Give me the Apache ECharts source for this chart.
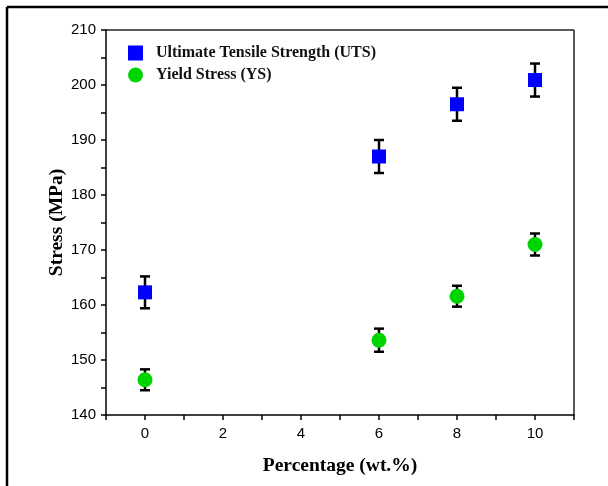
<!DOCTYPE html>
<html>
<head>
<meta charset="utf-8">
<script src="https://cdn.jsdelivr.net/npm/echarts@6/dist/echarts.min.js"></script>
<style>
  html, body { margin: 0; padding: 0; background: #fff; }
  #chart { width: 608px; height: 486px; }
</style>
</head>
<body>
<div id="chart"></div>
<script>
// data
var percent = [0, 6, 8, 10];
var utsValues = [162.3, 187.0, 196.5, 200.9];
var utsErrors = [2.9, 3.0, 3.0, 3.0];
var ysValues = [146.4, 153.6, 161.6, 171.0];
var ysErrors = [1.9, 2.1, 1.9, 2.0];
var xTicks = [0, 2, 4, 6, 8, 10];
var yTicks = [140, 150, 160, 170, 180, 190, 200, 210];

var dom = document.getElementById('chart');
var myChart = echarts.init(dom, null, { renderer: 'canvas' });

function points(vals) {
    return percent.map(function (x, i) { return [x, vals[i]]; });
}
function bars(vals, errs) {
    return percent.map(function (x, i) { return [x, vals[i] - errs[i], vals[i] + errs[i]]; });
}

function renderErrorBar(params, api) {
    var lo = api.coord([api.value(0), api.value(1)]);
    var hi = api.coord([api.value(0), api.value(2)]);
    var half = 5;
    var style = { stroke: '#000', lineWidth: 2.5 };
    return {
        type: 'group',
        children: [
            { type: 'line', shape: { x1: lo[0], y1: lo[1], x2: hi[0], y2: hi[1] }, style: style },
            { type: 'line', shape: { x1: lo[0] - half, y1: lo[1], x2: lo[0] + half, y2: lo[1] }, style: style },
            { type: 'line', shape: { x1: hi[0] - half, y1: hi[1], x2: hi[0] + half, y2: hi[1] }, style: style }
        ]
    };
}

var axisText = { color: '#000', fontFamily: 'Liberation Sans', fontSize: 15 };
var nameText = { color: '#000', fontFamily: 'Liberation Serif', fontWeight: 'bold', fontSize: 19.5 };

var option = {
    animation: false,
    backgroundColor: '#fff',
    grid: { left: 106, top: 30, right: 34, bottom: 71 },
    legend: {
        orient: 'vertical',
        left: 123,
        top: 40,
        itemWidth: 15,
        itemHeight: 15,
        itemGap: 6,
        textStyle: { color: '#111', fontFamily: 'Liberation Serif', fontWeight: 'bold', fontSize: 16, padding: [0, 0, 0, 8] },
        data: [
            { name: 'Ultimate Tensile Strength (UTS)', icon: 'rect' },
            { name: 'Yield Stress (YS)', icon: 'circle' }
        ]
    },
    xAxis: {
        type: 'value',
        min: -1,
        max: 11,
        interval: 1,
        name: 'Percentage (wt.%)',
        nameLocation: 'middle',
        nameGap: 41,
        nameMoveOverlap: false,
        nameTextStyle: nameText,
        axisLine: { show: true, onZero: false, lineStyle: { color: '#000', width: 1.5 } },
        axisTick: { show: true, length: 5, lineStyle: { color: '#000', width: 1.5 } },
        axisLabel: Object.assign({
            margin: 11,
            formatter: function (v) { return xTicks.indexOf(v) >= 0 ? String(v) : ''; }
        }, axisText),
        splitLine: { show: false }
    },
    yAxis: {
        type: 'value',
        min: 140,
        max: 210,
        interval: 5,
        name: 'Stress (MPa)',
        nameLocation: 'middle',
        nameGap: 39,
        nameMoveOverlap: false,
        nameTextStyle: nameText,
        axisLine: { show: true, onZero: false, lineStyle: { color: '#000', width: 1.5 } },
        axisTick: { show: true, length: 5, lineStyle: { color: '#000', width: 1.5 } },
        axisLabel: Object.assign({
            margin: 10,
            formatter: function (v) { return yTicks.indexOf(v) >= 0 ? String(v) : ''; }
        }, axisText),
        splitLine: { show: false }
    },
    graphic: [
        { type: 'line', shape: { x1: 7, y1: 7, x2: 608, y2: 7 }, style: { stroke: '#000', lineWidth: 2.5 } },
        { type: 'line', shape: { x1: 7, y1: 7, x2: 7, y2: 486 }, style: { stroke: '#000', lineWidth: 2.5 } },
        { type: 'line', shape: { x1: 106, y1: 30, x2: 574, y2: 30 }, style: { stroke: '#222', lineWidth: 1.5 } },
        { type: 'line', shape: { x1: 574, y1: 30, x2: 574, y2: 415 }, style: { stroke: '#222', lineWidth: 1.5 } }
    ],
    series: [
        {
            type: 'custom',
            renderItem: renderErrorBar,
            data: bars(utsValues, utsErrors),
            encode: { x: 0, y: [1, 2] },
            z: 2,
            silent: true
        },
        {
            type: 'custom',
            renderItem: renderErrorBar,
            data: bars(ysValues, ysErrors),
            encode: { x: 0, y: [1, 2] },
            z: 2,
            silent: true
        },
        {
            name: 'Ultimate Tensile Strength (UTS)',
            type: 'scatter',
            symbol: 'rect',
            symbolSize: 14,
            itemStyle: { color: '#0000ff', opacity: 1 },
            data: points(utsValues),
            z: 3
        },
        {
            name: 'Yield Stress (YS)',
            type: 'scatter',
            symbol: 'circle',
            symbolSize: 15,
            itemStyle: { color: '#00d400', opacity: 1 },
            data: points(ysValues),
            z: 3
        }
    ]
};

myChart.setOption(option);
</script>
</body>
</html>
